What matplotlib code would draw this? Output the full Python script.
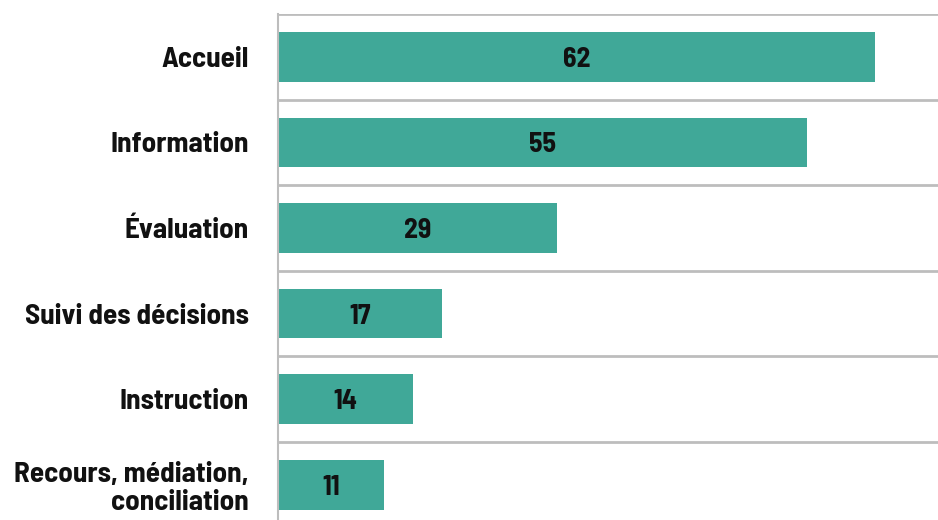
import matplotlib.pyplot as plt
import numpy as np

# etapes du parcours et nombre de citations
categories = ['Accueil', 'Information', 'Évaluation', 'Suivi des décisions',
              'Instruction', 'Recours, médiation,\nconciliation']
valeurs = [62, 55, 29, 17, 14, 11]

couleur = '#40a898'
police = ['Barlow Semi Condensed', 'DejaVu Sans']

fig = plt.figure(figsize=(9.38, 5.2), dpi=100)
ax = fig.add_axes([278 / 938, 1 - 527.6 / 520, 1 - 278 / 938, 513.6 / 520])

y = np.arange(len(categories))
ax.barh(y, valeurs, height=0.58, color=couleur, zorder=2)

# valeurs au milieu des barres
for yi, v in zip(y, valeurs):
    ax.text(v / 2, yi + 0.03, str(v), ha='center', va='center',
            fontsize=20, fontweight='bold', color='#111111',
            family=police, zorder=3)

ax.set_xlim(0, 68.6)
ax.set_ylim(len(categories) - 0.5, -0.5)

# lignes de separation entre categories
for b in np.arange(-0.5, len(categories), 1):
    ax.axhline(b, color='#bdbdbd', lw=2, zorder=1)

ax.set_yticks(y)
ax.set_yticklabels(categories, fontsize=21, fontweight='bold',
                   family=police, color='#111111', linespacing=1.12)
ax.tick_params(axis='y', length=0, pad=21)
ax.set_xticks([])

for s in ['top', 'right', 'bottom']:
    ax.spines[s].set_visible(False)
ax.spines['left'].set_color('#bdbdbd')
ax.spines['left'].set_linewidth(1.5)

fig.savefig('out.png', dpi=100)
